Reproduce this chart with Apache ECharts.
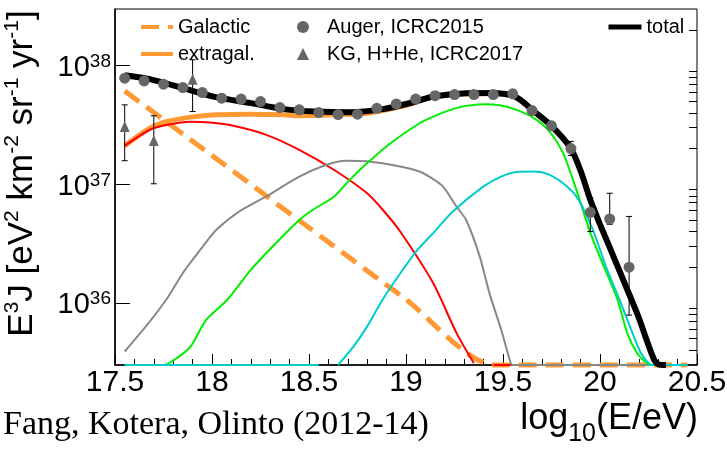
<!DOCTYPE html>
<html><head><meta charset="utf-8">
<script src="https://cdn.jsdelivr.net/npm/echarts@6/dist/echarts.min.js"></script>
<style>html,body{margin:0;padding:0;background:#fff}#c{width:727px;height:450px}</style>
</head><body><div id="c"></div>
<script>
// ---- data (log10(E/eV), E^3 J) ----
const yMajorTicks = [1e36, 1e37, 1e38];
const yMinorTicks = [4e35,5e35,6e35,7e35,8e35,9e35,2e36,3e36,4e36,5e36,6e36,7e36,8e36,9e36,
                     2e37,3e37,4e37,5e37,6e37,7e37,8e37,9e37,2e38];
const BOT = 3e35; // curves below the axis floor are drawn on the floor (as in the original)

const galactic = [[17.55,6.1e37],[18.0,1.75e37],[18.5,4.3e36],[19.0,1.07e36],[19.455,BOT],[20.45,BOT]];
const extragal = [[17.55,2.11e37],[17.68,2.97e37],[17.77,3.38e37],[17.89,3.68e37],[18.02,3.85e37],[18.2,3.9e37],
  [18.37,3.85e37],[18.45,3.78e37],[18.62,3.85e37],[18.8,3.97e37],[18.97,4.5e37],[19.05,4.9e37],[19.14,5.45e37],
  [19.31,5.8e37],[19.45,5.83e37],[19.5,5.75e37],[19.55,5.55e37],[19.6,4.95e37],[19.65,4.25e37],[19.75,3.1e37],
  [19.85,2.0e37],[19.9,1.3e37],[19.95,7.4e36],[20.0,4.6e36],[20.05,2.94e36],[20.1,1.87e36],[20.15,1.19e36],
  [20.2,7.5e35],[20.25,4.4e35],[20.28,3.3e35],[20.3,3.05e35],[20.34,BOT]];
const total = [[17.55,8.3e37],[17.68,7.69e37],[17.85,6.46e37],[18.02,5.42e37],[18.2,4.83e37],[18.37,4.3e37],
  [18.54,4.1e37],[18.71,4.05e37],[18.88,4.3e37],[19.05,4.98e37],[19.14,5.5e37],[19.31,5.85e37],[19.45,5.88e37],
  [19.5,5.8e37],[19.55,5.6e37],[19.6,5.0e37],[19.65,4.25e37],[19.75,3.1e37],[19.85,2.0e37],[19.9,1.3e37],
  [19.95,7.4e36],[20.0,4.6e36],[20.05,2.94e36],[20.1,1.87e36],[20.15,1.19e36],[20.2,7.5e35],[20.25,4.4e35],
  [20.28,3.3e35],[20.3,3.05e35],[20.34,BOT]];
const red = [[17.55,2.11e37],[17.68,2.88e37],[17.77,3.17e37],[17.89,3.36e37],[17.99,3.31e37],[18.11,3.11e37],
  [18.28,2.61e37],[18.45,1.95e37],[18.63,1.32e37],[18.8,8.4e36],[18.88,6.1e36],[18.97,4.0e36],[19.14,1.47e36],
  [19.26,5.6e35],[19.35,3.1e35],[19.4,'-'],[19.45,BOT],[19.63,BOT]];
const gray = [[17.55,3.9e35],[17.68,7.0e35],[17.77,1.1e36],[17.85,1.79e36],[17.94,2.81e36],[18.02,4.1e36],
  [18.14,5.9e36],[18.28,7.9e36],[18.45,1.16e37],[18.59,1.46e37],[18.69,1.58e37],[18.8,1.56e37],[18.97,1.41e37],
  [19.07,1.28e37],[19.12,1.16e37],[19.19,9.6e36],[19.26,6.5e36],[19.31,5.0e36],[19.38,2.47e36],[19.43,1.21e36],
  [19.49,6.0e35],[19.54,3.1e35],[19.55,BOT],[20.45,BOT]];
const green = [[17.55,BOT],[17.75,BOT],[17.82,3.44e35],[17.89,4.31e35],[17.97,7.2e35],[18.08,1.07e36],[18.2,1.9e36],
  [18.33,3.2e36],[18.45,5.0e36],[18.52,6.1e36],[18.63,7.9e36],[18.71,1.09e37],[18.8,1.51e37],[18.92,2.22e37],
  [19.07,3.27e37],[19.14,3.72e37],[19.23,4.24e37],[19.31,4.58e37],[19.4,4.73e37],[19.49,4.61e37],[19.57,4.24e37],
  [19.66,3.61e37],[19.74,2.78e37],[19.81,1.83e37],[19.86,1.1e37],[19.9,7.0e36],[19.95,3.9e36],[20.02,2.03e36],
  [20.09,1.07e36],[20.14,5.6e35],[20.19,3.8e35],[20.24,3.1e35],[20.26,BOT],[20.45,BOT]];
const cyan = [[17.55,BOT],[18.55,BOT],[18.6,'-'],[18.65,BOT],[18.73,4.3e35],[18.8,6.35e35],[18.88,1.07e36],
  [18.97,1.77e36],[19.06,2.81e36],[19.14,3.88e36],[19.24,5.87e36],[19.4,9.6e36],[19.49,1.16e37],[19.57,1.27e37],
  [19.66,1.28e37],[19.74,1.2e37],[19.83,9.6e36],[19.89,7.4e36],[19.97,3.88e36],[20.03,2.03e36],[20.1,1.07e36],
  [20.16,6.0e35],[20.21,3.8e35],[20.25,3.1e35],[20.27,BOT],[20.45,BOT]];

const augerX = [17.55,17.65,17.75,17.85,17.95,18.05,18.15,18.25,18.35,18.45,18.55,18.65,18.75,18.85,18.95,
  19.05,19.15,19.25,19.35,19.45,19.55,19.65,19.75,19.85,19.95,20.05,20.15];
const augerY = [7.83e37,7.43e37,6.97e37,6.53e37,5.93e37,5.32e37,5.22e37,4.98e37,4.43e37,4.24e37,4.02e37,3.87e37,
  3.9e37,4.37e37,4.76e37,5.22e37,5.58e37,5.7e37,5.7e37,5.7e37,5.78e37,4.18e37,3.11e37,2.0e37,5.8e36,5.1e36,2.0e36];
const augerErrX = [19.85,19.95,20.05,20.15];
const augerErrLo = [1.75e37,4.0e36,4.6e36,7.9e35];
const augerErrHi = [2.3e37,7.7e36,8.4e36,5.36e36];

const kgX = [17.55,17.7,17.9];
const kgY = [3.07e37,2.34e37,7.69e37];
const kgLo = [1.58e37,1.01e37,4.1e37];
const kgHi = [4.67e37,3.78e37,1.12e38];

// ---- chart ----
const FONT = 'Liberation Sans';
const chart = echarts.init(document.getElementById('c'), null, {renderer:'canvas'});
const zip = (a,b) => a.map((v,i)=>[v,b[i]]);
const errData = (x,lo,hi) => x.map((v,i)=>[v,lo[i],hi[i]]);
function errSeries(data, z){
  return {type:'custom', name:'_err'+z, xAxisIndex:0, yAxisIndex:0, z:z, silent:true,
    encode:{x:0, y:[1,2]}, data:data,
    renderItem:(params, api)=>{
      const x=api.value(0), lo=api.value(1), hi=api.value(2);
      const a=api.coord([x,lo]), b=api.coord([x,hi]);
      const st={stroke:'#000', lineWidth:1};
      return {type:'group', children:[
        {type:'line', shape:{x1:a[0],y1:a[1],x2:b[0],y2:b[1]}, style:st},
        {type:'line', shape:{x1:a[0]-3,y1:a[1],x2:a[0]+3,y2:a[1]}, style:st},
        {type:'line', shape:{x1:b[0]-3,y1:b[1],x2:b[0]+3,y2:b[1]}, style:st}]};
    }};
}
function lineSeries(name, data, color, width, z, dash){
  return {type:'line', name:name, data:data, symbol:'none', showSymbol:false, smooth:0.25, clip:false,
    connectNulls:false, z:z, silent:true,
    lineStyle:{color:color, width:width, type: dash || 'solid', cap:'butt'}, itemStyle:{color:color}};
}
const supFmt = v => '{b|10}{s|' + Math.round(Math.log10(v)) + '}';
const legendText = {fontSize:20, lineHeight:20, fontFamily:FONT, color:'#000'};

chart.setOption({
  animation:false,
  backgroundColor:'#fff',
  grid:{left:115, top:9, width:582, height:356, show:true, borderColor:'#000', borderWidth:1, outerBoundsMode:'none'},
  xAxis:{type:'value', min:17.5, max:20.5, interval:0.5,
    axisLine:{onZero:false, lineStyle:{color:'#000', width:1.5}},
    axisTick:{inside:true, length:11, lineStyle:{color:'#000', width:1}},
    minorTick:{show:true, splitNumber:5, length:6, lineStyle:{color:'#000', width:1}},
    axisLabel:{color:'#000', fontSize:30, fontFamily:FONT, margin:3},
    splitLine:{show:false}, minorSplitLine:{show:false}},
  yAxis:[
    {type:'log', logBase:10, min:3e35, max:3e38,
      axisLine:{show:true, lineStyle:{color:'#000', width:1.5}},
      axisTick:{show:true, inside:true, length:15, customValues:yMajorTicks, lineStyle:{color:'#000', width:1}},
      axisLabel:{customValues:yMajorTicks, formatter:supFmt, margin:4, color:'#000', padding:[9,0,0,0],
        rich:{b:{fontSize:29, lineHeight:36, fontFamily:FONT, color:'#000', verticalAlign:'top', padding:[1.5,0,0,0]},
              s:{fontSize:19, lineHeight:19, fontFamily:FONT, color:'#000', verticalAlign:'top'}}},
      splitLine:{show:false}},
    {type:'log', logBase:10, min:3e35, max:3e38,
      axisLine:{show:false},
      axisTick:{show:true, inside:true, length:8, customValues:yMinorTicks, lineStyle:{color:'#000', width:1}},
      axisLabel:{show:false}, splitLine:{show:false}}
  ],
  legend:[
    {data:['Galactic','extragal.'], orient:'vertical', left:134, top:12, itemWidth:32, itemHeight:14, itemGap:7,
      selectedMode:false, textStyle:legendText, itemStyle:{opacity:0}, lineStyle:{width:4}},
    {data:[{name:'Auger, ICRC2015', icon:'circle'},{name:'KG, H+He, ICRC2017', icon:'triangle'}],
      orient:'vertical', left:292, top:12, itemWidth:12, itemHeight:12, itemGap:7, selectedMode:false,
      textStyle:Object.assign({padding:[0,0,0,13]}, legendText)},
    {data:['total'], orient:'vertical', left:601, top:12, itemWidth:33, itemHeight:14, selectedMode:false,
      textStyle:legendText, itemStyle:{opacity:0}, lineStyle:{width:5}}
  ],
  graphic:[
    {type:'text', x:3, y:425.5, silent:true, style:{text:'Fang, Kotera, Olinto (2012-14)', fontFamily:'Liberation Serif',
      fontSize:34, fill:'#000', verticalAlign:'middle', align:'left'}},
    {type:'text', x:698, y:401.5, silent:true, style:{text:'{m|log}{s|10}{m|(E/eV)}', align:'right', verticalAlign:'top',
      rich:{m:{fontSize:36, lineHeight:36, fontFamily:FONT, fill:'#000', verticalAlign:'top'},
            s:{fontSize:25, lineHeight:25, fontFamily:FONT, fill:'#000', verticalAlign:'top', padding:[20,0,0,0]}}}},
    {type:'text', x:21.5, y:173.5, rotation:Math.PI/2, silent:true,
      style:{text:'{m|E}{s|3}{m|J [eV}{s|2}{m| km}{s|-2}{m| sr}{s|-1}{m| yr}{s|-1}{m|]}', align:'center', verticalAlign:'middle',
      rich:{m:{fontSize:35, lineHeight:40, fontFamily:FONT, fill:'#000', verticalAlign:'top', padding:[3,0,0,0]},
            s:{fontSize:21, lineHeight:21, fontFamily:FONT, fill:'#000', verticalAlign:'top'}}}}
  ],
  series:[
    lineSeries('Galactic', galactic, '#ff9933', 5, 2, [18,9]),
    lineSeries('extragal.', extragal, '#ff9933', 5, 3),
    lineSeries('red', red, '#ff0000', 2, 4),
    lineSeries('gray', gray, '#888888', 2, 5),
    lineSeries('green', green, '#00ee00', 2, 6),
    lineSeries('cyan', cyan, '#00cccc', 2, 7),
    lineSeries('total', total, '#000000', 6, 8),
    errSeries(errData(augerErrX, augerErrLo, augerErrHi), 9),
    errSeries(errData(kgX, kgLo, kgHi), 9),
    {type:'scatter', name:'Auger, ICRC2015', data:zip(augerX, augerY), symbol:'circle', symbolSize:11, z:10,
      itemStyle:{color:'#666666', opacity:1}, silent:true},
    {type:'scatter', name:'KG, H+He, ICRC2017', data:zip(kgX, kgY), symbol:'triangle', symbolSize:[10,11], z:10,
      itemStyle:{color:'#666666', opacity:1}, silent:true}
  ]
});
</script></body></html>
